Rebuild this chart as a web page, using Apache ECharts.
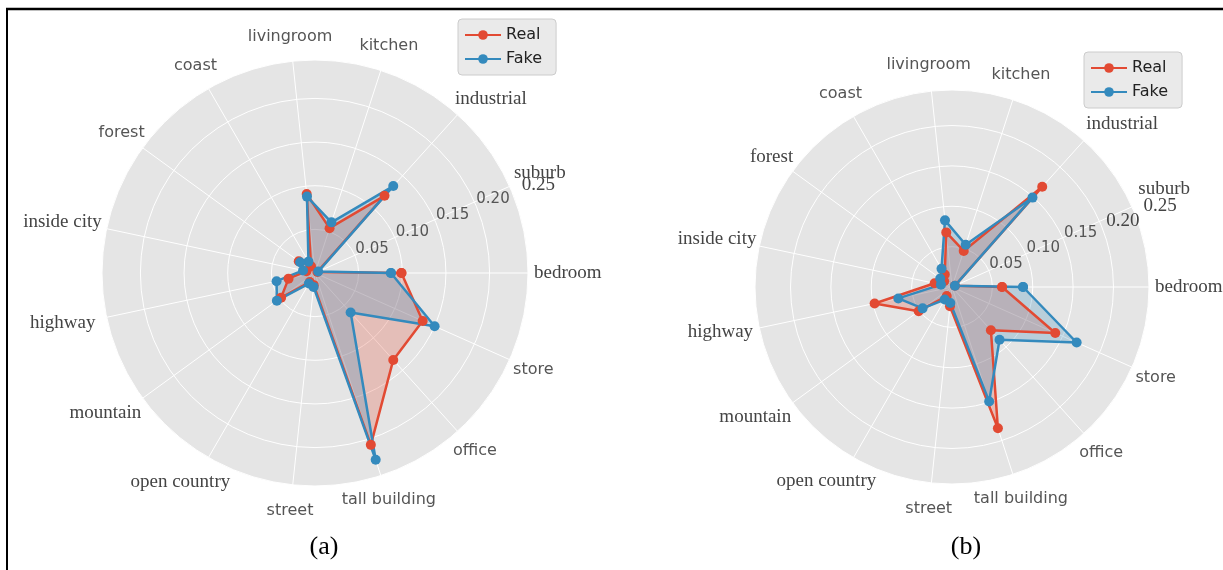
<!DOCTYPE html>
<html>
<head>
<meta charset="utf-8">
<script src="https://cdn.jsdelivr.net/npm/echarts@6/dist/echarts.min.js"></script>
<style>
  html, body { margin: 0; padding: 0; background: #ffffff; }
  #chart { width: 1223px; height: 570px; }
</style>
</head>
<body>
<div id="chart"></div>
<script>
// Scene categories, counter-clockwise from the east axis
const categories = ['bedroom', 'suburb', 'industrial', 'kitchen', 'livingroom', 'coast', 'forest',
  'inside city', 'highway', 'mountain', 'open country', 'street', 'tall building', 'office', 'store'];

// Radial tick labels
const tickLabels = ['0.05', '0.10', '0.15', '0.20', '0.25'];

// Class distributions, panel (a)
const realA = [0.099, 0.003, 0.119, 0.054, 0.091, 0.009, 0.023, 0.010, 0.031, 0.048, 0.012, 0.014, 0.207, 0.134, 0.135];
const fakeA = [0.087, 0.004, 0.134, 0.061, 0.088, 0.015, 0.021, 0.014, 0.045, 0.054, 0.014, 0.016, 0.225, 0.061, 0.150];

// Class distributions, panel (b)
const realB = [0.062, 0.004, 0.167, 0.047, 0.068, 0.018, 0.012, 0.022, 0.098, 0.051, 0.013, 0.024, 0.184, 0.072, 0.140];
const fakeB = [0.088, 0.004, 0.149, 0.055, 0.083, 0.026, 0.018, 0.014, 0.068, 0.045, 0.018, 0.020, 0.149, 0.088, 0.169];

const RMAX = 0.244;          // radial limit of the plotting disc
const STEP = 360 / categories.length;
const RED = '#E24A33';
const BLUE = '#348ABD';
const SANS = 'DejaVu Sans';
const SERIF = 'Liberation Serif';

const panels = [
  {
    cx: 315, cy: 273, r: 213, real: realA, fake: fakeA,
    serifCats: ['industrial', 'suburb', 'bedroom', 'inside city', 'highway', 'mountain', 'open country'],
    serifTicks: ['0.25'],
    nudge: { 'industrial': [9, 11], 'inside city': [1, 3], 'highway': [-5, -3], 'mountain': [-5, -9], 'open country': [-9, -9], 'livingroom': [0, 2] },
    legendPos: { left: 458, top: 19 },
    caption: '(a)', capX: 324, capY: 547
  },
  {
    cx: 952, cy: 287, r: 197, real: realB, fake: fakeB,
    serifCats: ['industrial', 'suburb', 'bedroom', 'forest', 'inside city', 'highway', 'mountain', 'open country'],
    serifTicks: ['0.20', '0.25'],
    nudge: { 'industrial': [14, 10], 'suburb': [2, -4], 'forest': [2, 3], 'inside city': [3, 3], 'highway': [0, -4], 'mountain': [-5, -9], 'open country': [-8, -10] },
    legendPos: { left: 1084, top: 52 },
    caption: '(b)', capX: 966, capY: 547
  }
];

const measureCtx = document.createElement('canvas').getContext('2d');
function textWidth(str, size, family) {
  measureCtx.font = size + 'px "' + family + '"';
  return measureCtx.measureText(str).width;
}

// closed polygon in [radius, angle] form
const toPolar = vals => vals.map((v, i) => [v, i * STEP]).concat([[vals[0], 360]]);

const option = {
  animation: false,
  backgroundColor: '#ffffff',
  polar: [], angleAxis: [], radiusAxis: [], series: [], legend: [], graphic: []
};

const hidden = { axisLine: { show: false }, axisTick: { show: false }, axisLabel: { show: false }, splitLine: { show: false } };
const tickRich = {
  sans: { fontFamily: SANS, fontSize: 15, color: '#555555' },
  serif: { fontFamily: SERIF, fontSize: 19, color: '#444444', lineHeight: 8, padding: [0, 0, 0, 5] }
};

panels.forEach((p, k) => {
  const fillIdx = k * 4;       // grey disc
  const gridIdx = k * 4 + 1;   // white grid and data
  const innerIdx = k * 4 + 2;  // tick labels 0.05 .. 0.20 along 22.5 degrees
  const outerIdx = k * 4 + 3;  // tick label 0.25

  option.polar.push({ center: [p.cx, p.cy], radius: p.r });
  option.polar.push({ center: [p.cx, p.cy], radius: p.r });
  option.polar.push({ center: [p.cx, p.cy], radius: p.r * 0.20 / RMAX });
  option.polar.push({ center: [p.cx, p.cy], radius: p.r * 0.25 / RMAX });

  // grey disc
  option.angleAxis.push(Object.assign({
    polarIndex: fillIdx, type: 'value', min: 0, max: 360, interval: STEP, startAngle: 0, clockwise: false, z: 0,
    splitArea: { show: true, areaStyle: { color: ['#E5E5E5'] } }
  }, hidden));
  option.radiusAxis.push(Object.assign({ polarIndex: fillIdx, type: 'value', min: 0, max: RMAX, z: 0 }, hidden));

  // grid
  option.angleAxis.push({
    polarIndex: gridIdx, type: 'value', min: 0, max: 360, interval: STEP,
    startAngle: 0, clockwise: false, z: 1,
    axisLine: { show: false }, axisTick: { show: false }, axisLabel: { show: false },
    splitLine: { show: true, lineStyle: { color: '#ffffff', width: 1 } }
  });
  option.radiusAxis.push({
    polarIndex: gridIdx, type: 'value', min: 0, max: RMAX, interval: 0.05, z: 1,
    axisLine: { show: false }, axisTick: { show: false }, axisLabel: { show: false },
    splitLine: { show: true, lineStyle: { color: '#ffffff', width: 1 } }
  });

  // tick labels
  [[innerIdx, 0.20, t => t !== '0.25'], [outerIdx, 0.25, t => t === '0.25']].forEach(([idx, max, keep]) => {
    option.angleAxis.push(Object.assign({
      polarIndex: idx, type: 'value', min: 0, max: 360, startAngle: 22.5, z: 1
    }, hidden));
    option.radiusAxis.push({
      polarIndex: idx, type: 'value', min: 0, max, interval: 0.05, z: 5,
      axisLine: { show: false }, axisTick: { show: false }, splitLine: { show: false },
      axisLabel: {
        show: true, margin: 0, align: 'left', verticalAlign: 'bottom',
        showMinLabel: false, showMaxLabel: true, hideOverlap: false,
        formatter: v => {
          const i = Math.round(v / 0.05) - 1;
          if (i < 0 || i >= tickLabels.length) return '';
          const t = tickLabels[i];
          if (!keep(t)) return '';
          return (p.serifTicks.includes(t) ? '{serif|' : '{sans|') + t + '}';
        },
        rich: tickRich
      }
    });
  });

  [['Real', p.real, RED], ['Fake', p.fake, BLUE]].forEach(([name, vals, color]) => {
    option.series.push({
      name, type: 'line', coordinateSystem: 'polar', polarIndex: gridIdx,
      data: toPolar(vals),
      symbol: 'circle', symbolSize: 10, showSymbol: true,
      itemStyle: { color },
      lineStyle: { color, width: 2.5 },
      areaStyle: { color, opacity: 0.25 },
      z: 3
    });
  });

  option.legend.push({
    data: ['Real', 'Fake'], orient: 'vertical',
    left: p.legendPos.left, top: p.legendPos.top,
    itemWidth: 36, itemHeight: 12, itemGap: 8,
    padding: [8, 14, 8, 6],
    backgroundColor: 'rgba(232,232,232,0.9)', borderColor: '#cccccc', borderWidth: 1, borderRadius: 4,
    textStyle: { fontFamily: SANS, fontSize: 16, color: '#222222' }
  });

  // category names around the disc
  categories.forEach((name, i) => {
    const a = i * STEP * Math.PI / 180;
    const c = Math.cos(a), s = Math.sin(a);
    const serif = p.serifCats.includes(name);
    const size = serif ? 19 : 16;
    const fam = serif ? SERIF : SANS;
    let d;
    if (serif) {
      const w = textWidth(name, size, fam);
      d = p.r + 6 + Math.abs(c) * w / 2 + Math.abs(s) * 8.5;
    } else {
      d = p.r + 26;
    }
    const n = p.nudge[name] || [0, 0];
    option.graphic.push({
      type: 'text', x: p.cx + d * c + n[0], y: p.cy - d * s + n[1], z: 10,
      style: { text: name, fontFamily: fam, fontSize: size, fill: serif ? '#444444' : '#555555',
               align: 'center', verticalAlign: 'middle' }
    });
  });

  option.graphic.push({
    type: 'text', x: p.capX, y: p.capY, z: 10,
    style: { text: p.caption, fontFamily: SERIF, fontSize: 26, fill: '#000000',
             align: 'center', verticalAlign: 'middle' }
  });
});

// figure frame
option.graphic.push(
  { type: 'line', shape: { x1: 6, y1: 9, x2: 1223, y2: 9 }, style: { stroke: '#000000', lineWidth: 2.5 }, z: 20 },
  { type: 'line', shape: { x1: 7, y1: 8, x2: 7, y2: 570 }, style: { stroke: '#000000', lineWidth: 2 }, z: 20 }
);

const chart = echarts.init(document.getElementById('chart'), null, { renderer: 'canvas' });
chart.setOption(option);
</script>
</body>
</html>
